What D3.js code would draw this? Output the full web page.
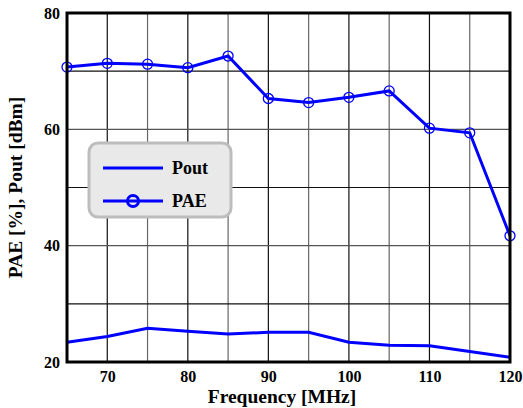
<!DOCTYPE html>
<html><head><meta charset="utf-8">
<script src="https://cdn.jsdelivr.net/npm/d3@7"></script>
<style>body{margin:0;background:#fff}svg{display:block}</style>
</head><body>
<script>
const freq = [65,70,75,80,85,90,95,100,105,110,115,120];
const pae = [70.7,71.35,71.2,70.6,72.6,65.3,64.6,65.5,66.6,60.2,59.4,41.7];
const pout = [23.4,24.4,25.8,25.3,24.8,25.1,25.1,23.4,22.9,22.8,21.8,20.8];
const xTicks = [70,80,90,100,110,120];
const yTicks = [20,40,60,80];
const xGrid = [70,75,80,85,90,95,100,105,110,115];
const yGrid = [30,40,50,60,70];

const FF='"Liberation Serif","Times New Roman",serif';
const W=523,H=408, L=67,R=510,T=13,B=362;
const svg=d3.select("body").append("svg").attr("width",W).attr("height",H);
const x=d3.scaleLinear().domain([65,120]).range([L,R]);
const y=d3.scaleLinear().domain([20,80]).range([B,T]);

svg.append("g").selectAll("line").data(xGrid).join("line")
 .attr("x1",d=>x(d)).attr("x2",d=>x(d)).attr("y1",T).attr("y2",B)
 .attr("stroke",d=>d%10===0?"#111":"#666").attr("stroke-width",1.2);
svg.append("g").selectAll("line").data(yGrid).join("line")
 .attr("y1",d=>y(d)).attr("y2",d=>y(d)).attr("x1",L).attr("x2",R)
 .attr("stroke",d=>d%20===0?"#555":"#111").attr("stroke-width",1.2);

const line=d3.line().x((d,i)=>x(freq[i])).y(d=>y(d));
svg.append("path").datum(pout).attr("d",line).attr("fill","none").attr("stroke","#0000ff").attr("stroke-width",3);
svg.append("path").datum(pae).attr("d",line).attr("fill","none").attr("stroke","#0000ff").attr("stroke-width",3);
svg.append("g").selectAll("circle").data(pae).join("circle")
 .attr("cx",(d,i)=>x(freq[i])).attr("cy",d=>y(d)).attr("r",5)
 .attr("fill","none").attr("stroke","#0000ff").attr("stroke-width",1.3);

svg.append("rect").attr("x",L).attr("y",T).attr("width",R-L).attr("height",B-T)
 .attr("fill","none").attr("stroke","#000").attr("stroke-width",3);

const xa=svg.append("g").attr("transform",`translate(0,${B})`)
 .call(d3.axisBottom(x).tickValues(xTicks).tickSize(0).tickPadding(9).tickFormat(d3.format("d")));
xa.select(".domain").remove();
const ya=svg.append("g").attr("transform",`translate(${L},0)`)
 .call(d3.axisLeft(y).tickValues(yTicks).tickSize(0).tickPadding(7).tickFormat(d3.format("d")));
ya.select(".domain").remove();
svg.selectAll(".tick text").attr("fill","#000").style("font-family",FF).style("font-weight","bold").style("font-size","16px");

svg.append("text").attr("x",282).attr("y",403).attr("text-anchor","middle").text("Frequency [MHz]");
svg.append("text").attr("transform",`translate(22,${(T+B)/2}) rotate(-90)`).attr("text-anchor","middle").text("PAE [%], Pout [dBm]");

const lg=svg.append("g");
lg.append("rect").attr("x",89).attr("y",143).attr("width",142).attr("height",74).attr("rx",9)
 .attr("fill","#e9e9e9").attr("stroke","#bdbdbd").attr("stroke-width",3);
lg.append("line").attr("x1",103).attr("x2",163).attr("y1",168).attr("y2",168).attr("stroke","#0000ff").attr("stroke-width",3);
lg.append("text").attr("class","lt").attr("x",172).attr("y",174).text("Pout");
lg.append("line").attr("x1",103).attr("x2",163).attr("y1",201).attr("y2",201).attr("stroke","#0000ff").attr("stroke-width",3);
lg.append("circle").attr("cx",133).attr("cy",201).attr("r",5.5).attr("fill","none").attr("stroke","#0000ff").attr("stroke-width",3);
lg.append("text").attr("class","lt").attr("x",172).attr("y",207).text("PAE");

svg.selectAll("svg > text").style("font-family",FF).style("font-weight","bold").style("font-size","19.5px");
svg.selectAll(".lt").style("font-family",FF).style("font-weight","bold").style("font-size","18px");
</script>
</body></html>
